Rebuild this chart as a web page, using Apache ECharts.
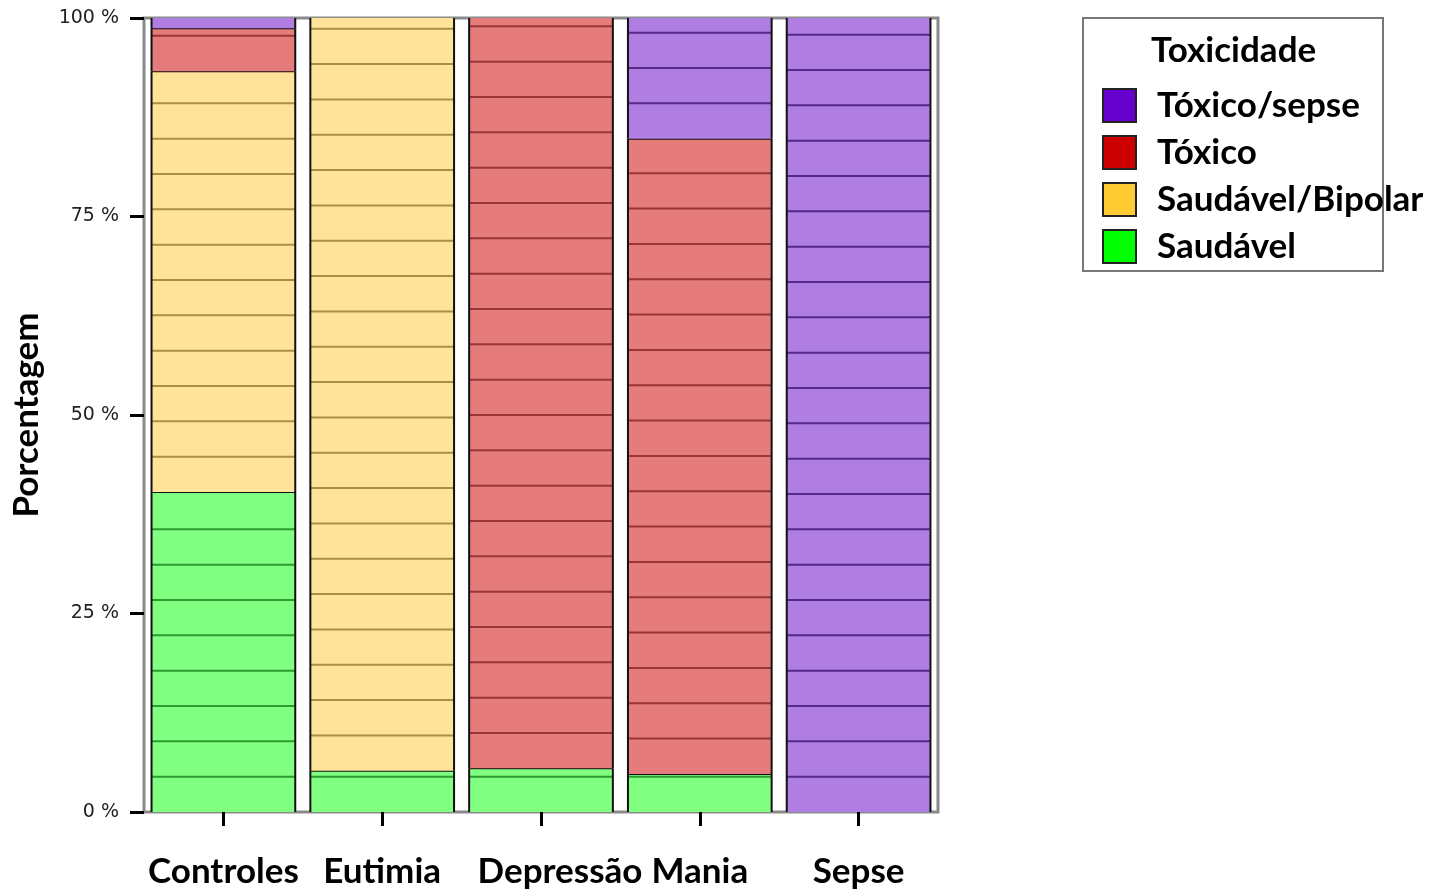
<!DOCTYPE html>
<html>
<head>
<meta charset="utf-8">
<script src="https://cdn.jsdelivr.net/npm/echarts@6/dist/echarts.min.js"></script>
<style>html,body{margin:0;padding:0;background:#fff}#c{width:1433px;height:890px}</style>
</head>
<body>
<div id="c"></div>
<script>
const categories = ['Controles', 'Eutimia', 'Depressão', 'Mania', 'Sepse'];
// percentages, stacked from bottom
const saudavel        = [40.3, 5.2, 5.5, 4.8, 0];
const saudavelBipolar = [53.0, 94.8, 0, 0, 0];
const toxico          = [5.4, 0, 94.5, 80.0, 0];
const toxicoSepse     = [1.3, 0, 0, 15.2, 100];
const yTicks = [0, 25, 50, 75, 100];
const yTickLabels = ['0 %', '25 %', '50 %', '75 %', '100 %'];

const seriesDefs = [
  { name: 'Saudável',         values: saudavel,        legend: '#00FF00', fill: '#80FF80', line: '#2f9a2f' },
  { name: 'Saudável/Bipolar', values: saudavelBipolar, legend: '#FFCC33', fill: '#FFE399', line: '#a8904a' },
  { name: 'Tóxico',           values: toxico,          legend: '#CC0000', fill: '#E57B7B', line: '#9a3535' },
  { name: 'Tóxico/sepse',     values: toxicoSepse,     legend: '#6600CC', fill: '#B07EE2', line: '#55288a' }
];
const STEP = 4.45; // spacing of case lines inside a segment
const BAR_FRAC = 0.905;

const chart = echarts.init(document.getElementById('c'));
const cum = categories.map(() => 0);
const series = seriesDefs.map(def => {
  const data = [];
  categories.forEach((c, i) => {
    const v = def.values[i];
    if (v > 0) data.push([i, cum[i], cum[i] + v]);
    cum[i] += v;
  });
  return {
    type: 'custom',
    name: def.name,
    itemStyle: { color: def.legend },
    encode: { x: 0, y: [1, 2] },
    data: data,
    renderItem: function (params, api) {
      const ci = api.value(0), lo = api.value(1), hi = api.value(2);
      const pTop = api.coord([ci, hi]);
      const pBot = api.coord([ci, lo]);
      const bw = api.size([1, 0])[0] * BAR_FRAC;
      const x0 = pTop[0] - bw / 2;
      const children = [{
        type: 'rect',
        shape: { x: x0, y: pTop[1], width: bw, height: pBot[1] - pTop[1] },
        style: { fill: def.fill }
      }];
      for (let v = lo + STEP; v < hi - 0.3; v += STEP) {
        const y = api.coord([ci, v])[1];
        children.push({ type: 'line', shape: { x1: x0, y1: y, x2: x0 + bw, y2: y }, style: { stroke: def.line, lineWidth: 2 } });
      }
      if (hi < 99.9) {
        children.push({ type: 'line', shape: { x1: x0, y1: pTop[1], x2: x0 + bw, y2: pTop[1] }, style: { stroke: '#111', lineWidth: 2 } });
      }
      children.push({ type: 'line', shape: { x1: x0, y1: pTop[1], x2: x0, y2: pBot[1] }, style: { stroke: '#111', lineWidth: 2 } });
      children.push({ type: 'line', shape: { x1: x0 + bw, y1: pTop[1], x2: x0 + bw, y2: pBot[1] }, style: { stroke: '#111', lineWidth: 2 } });
      return { type: 'group', children: children };
    }
  };
});

const legendOrder = seriesDefs.slice().reverse();

chart.setOption({
  animation: false,
  textStyle: { fontFamily: 'Lato' },
  grid: { left: 144, right: 495, top: 18, bottom: 78, outerBoundsMode: 'none', containLabel: false, show: true, borderColor: '#8a8a8a', borderWidth: 3, backgroundColor: '#fff' },
  xAxis: {
    type: 'category',
    data: categories,
    axisLine: { show: false },
    axisTick: { show: true, alignWithLabel: true, length: 14, lineStyle: { color: '#000', width: 3 } },
    axisLabel: {
      margin: 42, fontFamily: 'Lato', fontWeight: 'bold', fontSize: 35, color: '#000', interval: 0,
      formatter: v => v === 'Depressão' ? '{shift|' + v + '}' : v,
      rich: { shift: { fontFamily: 'Lato', fontWeight: 'bold', fontSize: 35, color: '#000', padding: [0, 0, 0, 38] } }
    }
  },
  yAxis: {
    type: 'value', min: 0, max: 100, interval: 25,
    name: 'Porcentagem', nameLocation: 'middle', nameRotate: 90, nameGap: 100,
    nameTextStyle: { fontFamily: 'Lato', fontWeight: 'bold', fontSize: 35, color: '#000' },
    axisLine: { show: false },
    splitLine: { show: false },
    axisTick: { show: true, length: 14, lineStyle: { color: '#000', width: 3 } },
    axisLabel: {
      margin: 25, fontFamily: 'DejaVu Sans', fontSize: 19, color: '#222',
      formatter: v => yTickLabels[yTicks.indexOf(v)]
    }
  },
  legend: {
    orient: 'vertical', left: 1102, top: 88, padding: 0,
    itemWidth: 33, itemHeight: 33, itemGap: 12,
    icon: 'rect',
    selectedMode: false,
    textStyle: { fontFamily: 'Lato', fontWeight: 'bold', fontSize: 35, color: '#000', lineHeight: 33, padding: [0, 0, 0, 16] },
    data: legendOrder.map(d => ({ name: d.name, itemStyle: { color: d.legend, borderColor: '#222', borderWidth: 2 } }))
  },
  graphic: [
    { type: 'rect', z: -1, shape: { x: 1083, y: 18, width: 300, height: 253 }, style: { fill: '#fff', stroke: '#777', lineWidth: 2 } },
    { type: 'text', left: 1151, top: 33, style: { text: 'Toxicidade', font: 'bold 35px Lato', fill: '#000' } }
  ],
  series: series
});
</script>
</body>
</html>
